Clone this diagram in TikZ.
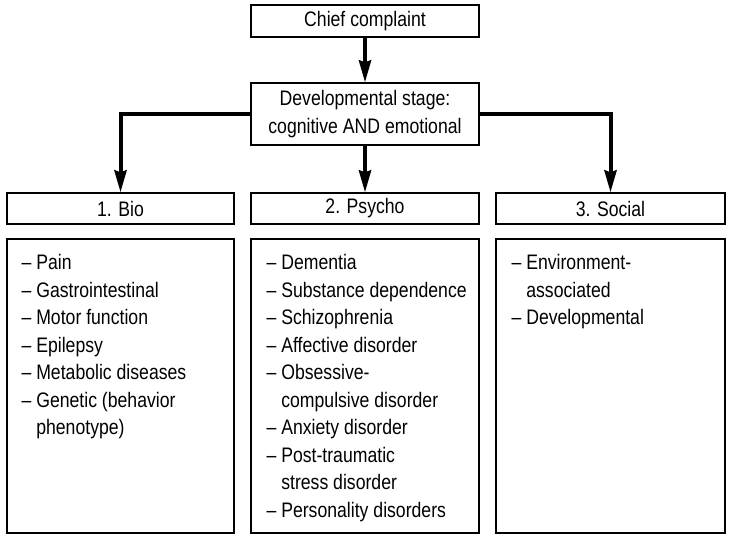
\documentclass[tikz,border=0pt]{standalone}
\usepackage{fontspec}
\setmainfont{Liberation Sans}[FakeStretch=0.84]
\usetikzlibrary{arrows.meta}
\tikzset{>={Stealth[length=22pt,width=12pt,inset=2pt]}}
\tikzset{box/.style={draw=black, line width=1.2pt, inner sep=0pt, align=center},
  head/.style={box, minimum height=31},
  listbox/.style={box, minimum height=294},
  flow/.style={->, line width=4pt},
  items/.style={anchor=north west, inner sep=0pt, align=left}}
\newcommand{\contline}{\phantom{–\ }}

\begin{document}
\begin{tikzpicture}[x=1pt,y=-1pt,font=\fontsize{21}{27.5}\selectfont]
  \useasboundingbox (0,0) rectangle (730,538);
  % top of the chart
  \node[box, minimum width=228, minimum height=32] (chief) at (365,21) {Chief complaint};
  \node[box, minimum width=228, minimum height=62] (stage) at (365,114)
    {Developmental stage:\\cognitive AND emotional};
  % the three headings and their boxes
  \foreach \name/\x/\w/\lbl in {bio/120.5/227/1. Bio, psy/365/228/2. Psycho, soc/610.5/229/3. Social}
  {
    \node[head, minimum width=\w] (\name Head) at (\x,208.5) {\lbl};
    \node[listbox, minimum width=\w] (\name List) at (\x,386) {};
  }
  \node[items] (bioItems) at ([shift={(15,15.7)}]bioList.north west)
    {– Pain\\– Gastrointestinal\\– Motor function\\– Epilepsy\\– Metabolic diseases\\
     – Genetic (behavior\\\contline phenotype)};
  \node[items] (psyItems) at ([shift={(16,15.7)}]psyList.north west)
    {– Dementia\\– Substance dependence\\– Schizophrenia\\– Affective disorder\\
     – Obsessive-\\\contline compulsive disorder\\– Anxiety disorder\\
     – Post-traumatic\\\contline stress disorder\\– Personality disorders};
  \node[items] (socItems) at ([shift={(16,15.7)}]socList.north west)
    {– Environment-\\\contline associated\\– Developmental};
  % connectors
  \draw[flow] (chief) -- (stage);
  \draw[flow] (stage.west) -| (bioHead);
  \draw[flow] (stage) -- (psyHead);
  \draw[flow] (stage.east) -| (socHead);
\end{tikzpicture}
\end{document}
